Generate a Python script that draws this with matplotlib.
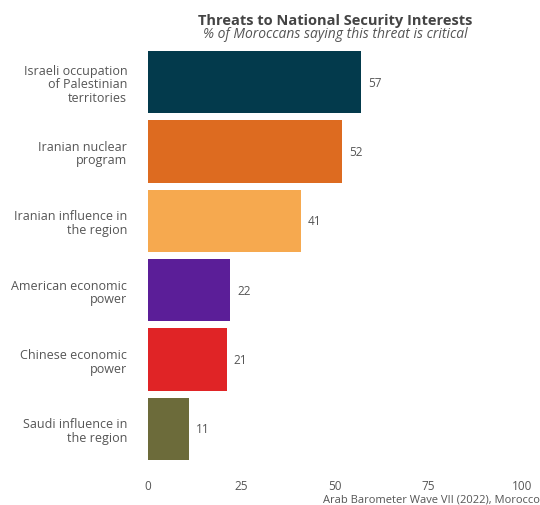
import matplotlib
matplotlib.use("Agg")
import matplotlib.pyplot as plt

categories = ["Israeli occupation\nof Palestinian\nterritories", "Iranian nuclear\nprogram",
              "Iranian influence in\nthe region", "American economic\npower",
              "Chinese economic\npower", "Saudi influence in\nthe region"]
values = [57, 52, 41, 22, 21, 11]
colors = ["#033a4c", "#dd6b20", "#f6a94f", "#5b1e98", "#e02426", "#6c6b3a"]
xticks = [0, 25, 50, 75, 100]

plt.rcParams['font.family'] = ['Open Sans', 'DejaVu Sans']
fig = plt.figure(figsize=(5.4, 5.06), dpi=100)
ax = fig.add_axes([148/540, 1-464.7/506, (522-148)/540, (464.7-48.3)/506])
y = list(range(len(categories)))
ax.barh(y, values, height=0.9, color=colors)
ax.set_ylim(5.5, -0.5)
ax.set_xlim(0, 100)
ax.set_yticks(y)
ax.set_yticklabels(categories, fontsize=9, color="#555555", linespacing=1.05)
ax.set_xticks(xticks)
ax.set_xticklabels([str(t) for t in xticks], fontsize=8.5, color="#555555")
ax.tick_params(length=0)
ax.tick_params(axis='x', pad=11)
ax.tick_params(axis='y', pad=15)
for s in ax.spines.values():
    s.set_visible(False)
for yi, v in zip(y, values):
    ax.text(v + 1.8, yi, str(v), va='center', ha='left', fontsize=8.5, color="#555555")
fig.text(335/540, 1-21/506, "Threats to National Security Interests", ha='center', va='center',
         fontsize=10.5, fontweight='bold', color="#444444")
fig.text(335/540, 1-35/506, "% of Moroccans saying this threat is critical", ha='center', va='center',
         fontsize=10, style='italic', color="#555555")
fig.text(1.0, 1-500/506, "Arab Barometer Wave VII (2022), Morocco", ha='right', va='center',
         fontsize=8, color="#555555")
fig.savefig("out.png", dpi=100, facecolor="white")
